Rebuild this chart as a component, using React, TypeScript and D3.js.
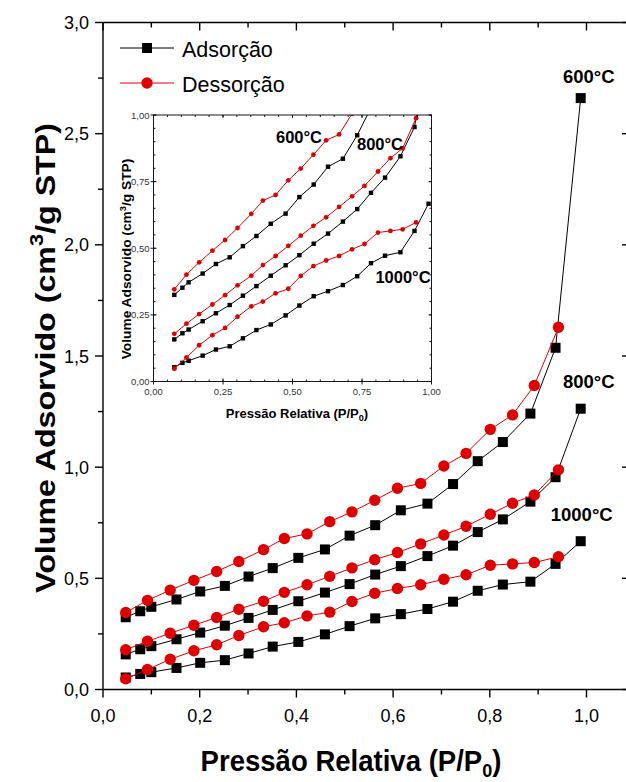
import React from "react";
import * as d3 from "d3";

// relative pressure of the measured points
const adsP = [0.047, 0.077, 0.1, 0.152, 0.201, 0.252, 0.301, 0.351, 0.404, 0.459, 0.51, 0.563, 0.616, 0.671, 0.724, 0.775, 0.827, 0.884, 0.936, 0.988];
const desP = [0.047, 0.092, 0.139, 0.188, 0.235, 0.281, 0.332, 0.375, 0.422, 0.469, 0.515, 0.562, 0.609, 0.657, 0.705, 0.751, 0.801, 0.847, 0.892, 0.942];

// adsorbed volume (cm3/g STP)
const ads600 = [0.325, 0.352, 0.372, 0.405, 0.441, 0.466, 0.508, 0.546, 0.592, 0.63, 0.692, 0.739, 0.806, 0.836, 0.924, 1.027, 1.113, 1.241, 1.537, 2.66];
const des600 = [0.346, 0.401, 0.447, 0.491, 0.531, 0.576, 0.629, 0.679, 0.7, 0.755, 0.799, 0.851, 0.905, 0.927, 1.005, 1.062, 1.17, 1.235, 1.367, 1.629];
const ads800 = [0.158, 0.181, 0.195, 0.226, 0.256, 0.287, 0.322, 0.358, 0.397, 0.436, 0.474, 0.517, 0.555, 0.6, 0.647, 0.708, 0.765, 0.845, 0.955, 1.263];
const des800 = [0.179, 0.217, 0.253, 0.289, 0.324, 0.361, 0.397, 0.437, 0.471, 0.509, 0.547, 0.584, 0.616, 0.655, 0.695, 0.734, 0.788, 0.838, 0.875, 0.988];
const ads1000 = [0.054, 0.07, 0.078, 0.097, 0.12, 0.132, 0.162, 0.193, 0.214, 0.248, 0.285, 0.32, 0.339, 0.362, 0.395, 0.444, 0.472, 0.485, 0.565, 0.667];
const des1000 = [0.048, 0.09, 0.136, 0.174, 0.201, 0.243, 0.282, 0.3, 0.331, 0.348, 0.396, 0.433, 0.454, 0.471, 0.496, 0.516, 0.559, 0.565, 0.571, 0.597];

const xTicks = [0, 0.2, 0.4, 0.6, 0.8, 1.0];
const yTicks = [0, 0.5, 1.0, 1.5, 2.0, 2.5, 3.0];
const insetTicks = [0, 0.25, 0.5, 0.75, 1.0];

const FONT = "'Liberation Sans', Arial, sans-serif";
const RED = "#e00000";

const fmt1 = (d: number) => d.toFixed(1).replace(".", ",");
const fmt2 = (d: number) => d.toFixed(2).replace(".", ",");

type Series = { xs: number[]; ys: number[]; ads: boolean };
const series: Series[] = [
  { xs: adsP, ys: ads600, ads: true },
  { xs: adsP, ys: ads800, ads: true },
  { xs: adsP, ys: ads1000, ads: true },
  { xs: desP, ys: des600, ads: false },
  { xs: desP, ys: des800, ads: false },
  { xs: desP, ys: des1000, ads: false },
];

export default function App() {
  const x = d3.scaleLinear().domain([0, 1]).range([103, 586.5]);
  const y = d3.scaleLinear().domain([0, 3]).range([689.5, 22.5]);
  const rightX = 631;

  // inset axes
  const ix = d3.scaleLinear().domain([0, 1]).range([153.5, 431.5]);
  const iy = d3.scaleLinear().domain([0, 1]).range([381.5, 115]);
  // the inset's points sit a little to the right of its own tick marks
  const ixData = d3.scaleLinear().domain([-0.03, 0.999]).range([153.5, 431.5]);

  const mainLine = d3
    .line<[number, number]>()
    .x((d) => x(d[0]))
    .y((d) => y(d[1]));
  const insetLine = d3
    .line<[number, number]>()
    .x((d) => ixData(d[0]))
    .y((d) => iy(d[1]));

  const pts = (s: Series) => s.xs.map((p, i) => [p, s.ys[i]] as [number, number]);

  const minorX = d3.range(0.1, 1.01, 0.2);
  const minorY = d3.range(0.25, 3, 0.5);
  const topTicks = d3.range(0, 1.11, 0.1);
  const insetMinor = d3.range(0, 1.001, 0.05);

  const tempLabels = [
    { text: "600°C", p: adsP[19], v: ads600[19], dx: 8, dy: -15 },
    { text: "800°C", p: adsP[19], v: ads800[19], dx: 8, dy: -21 },
    { text: "1000°C", p: adsP[19], v: ads1000[19], dx: 1, dy: -20 },
  ];

  return (
    <svg width={626} height={782} style={{ position: "absolute", left: 0, top: 0, background: "#fff" }} fontFamily={FONT}>
      <defs>
        <clipPath id="insetClip">
          <rect x={ix(0)} y={iy(1)} width={ix(1) - ix(0)} height={iy(0) - iy(1)} />
        </clipPath>
      </defs>

      {/* main frame */}
      <g stroke="#000" strokeWidth={1.4} fill="none">
        <line x1={x(0)} x2={rightX} y1={y(0)} y2={y(0)} />
        <line x1={x(0)} x2={rightX} y1={y(3)} y2={y(3)} />
        <line x1={x(0)} x2={x(0)} y1={y(0)} y2={y(3)} />
        <line x1={rightX} x2={rightX} y1={y(0)} y2={y(3)} />
        {xTicks.map((t) => (
          <line key={"bx" + t} x1={x(t)} x2={x(t)} y1={y(0)} y2={y(0) + 8} />
        ))}
        {minorX.map((t) => (
          <line key={"bm" + t} x1={x(t)} x2={x(t)} y1={y(0)} y2={y(0) + 5} />
        ))}
        {topTicks.map((t, i) => (
          <line key={"tx" + t} x1={x(t)} x2={x(t)} y1={y(3)} y2={y(3) + (i % 2 === 0 ? 8 : 5)} />
        ))}
        {yTicks.map((t) => (
          <line key={"ly" + t} x1={x(0) - 8} x2={x(0)} y1={y(t)} y2={y(t)} />
        ))}
        {minorY.map((t) => (
          <line key={"lm" + t} x1={x(0) - 5} x2={x(0)} y1={y(t)} y2={y(t)} />
        ))}
        {yTicks.map((t) => (
          <line key={"ry" + t} x1={rightX - 9} x2={rightX} y1={y(t)} y2={y(t)} />
        ))}
      </g>

      {/* tick labels */}
      <g fontSize={18} fill="#000">
        {xTicks.map((t) => (
          <text key={"xl" + t} x={x(t)} y={722} textAnchor="middle">
            {fmt1(t)}
          </text>
        ))}
        {yTicks.map((t) => (
          <text key={"yl" + t} x={89} y={y(t) + 6.5} textAnchor="end">
            {fmt1(t)}
          </text>
        ))}
      </g>

      {/* axis titles */}
      <text transform="translate(351,771) scale(0.95,1)" textAnchor="middle" fontSize={29} fontWeight="bold">
        Pressão Relativa (P/P<tspan fontSize={19} dy={6}>0</tspan>
        <tspan dy={-6}>)</tspan>
      </text>
      <text transform="translate(55,358) rotate(-90) scale(1.15,1)" textAnchor="middle" fontSize={28} fontWeight="bold">
        Volume Adsorvido (cm<tspan fontSize={19} dy={-12}>3</tspan>
        <tspan dy={12}>/g STP)</tspan>
      </text>

      {/* main series */}
      {series.map((s, i) => (
        <g key={"ms" + i}>
          <path d={mainLine(pts(s)) || ""} fill="none" stroke={s.ads ? "#000" : RED} strokeWidth={1} />
          {pts(s).map((d, j) =>
            s.ads ? (
              <rect key={j} x={x(d[0]) - 5} y={y(d[1]) - 5} width={10} height={10} fill="#000" />
            ) : (
              <circle key={j} cx={x(d[0])} cy={y(d[1])} r={5.7} fill={RED} />
            )
          )}
        </g>
      ))}

      {/* temperature labels */}
      {tempLabels.map((l) => (
        <text key={l.text} x={x(l.p) + l.dx} y={y(l.v) + l.dy} textAnchor="middle" fontSize={18.5} fontWeight="bold">
          {l.text}
        </text>
      ))}

      {/* legend */}
      <g>
        <line x1={120} x2={174} y1={48} y2={48} stroke="#000" strokeWidth={1} />
        <rect x={142} y={43} width={10} height={10} fill="#000" />
        <text x={182} y={57} fontSize={21.5}>Adsorção</text>
        <line x1={120} x2={174} y1={83} y2={83} stroke={RED} strokeWidth={1} />
        <circle cx={147} cy={83} r={5.7} fill={RED} />
        <text x={182} y={92} fontSize={21.5}>Dessorção</text>
      </g>

      {/* inset */}
      <g>
        <rect x={ix(0)} y={iy(1)} width={ix(1) - ix(0)} height={iy(0) - iy(1)} fill="#fff" />
        <g clipPath="url(#insetClip)">
          {series.map((s, i) => (
            <g key={"is" + i}>
              <path d={insetLine(pts(s)) || ""} fill="none" stroke={s.ads ? "#000" : RED} strokeWidth={1} />
              {pts(s).map((d, j) =>
                s.ads ? (
                  <rect key={j} x={ixData(d[0]) - 2.2} y={iy(d[1]) - 2.2} width={4.4} height={4.4} fill="#000" />
                ) : (
                  <circle key={j} cx={ixData(d[0])} cy={iy(d[1])} r={2.4} fill={RED} />
                )
              )}
            </g>
          ))}
        </g>
        <g stroke="#000" strokeWidth={0.9} fill="none">
          <rect x={ix(0)} y={iy(1)} width={ix(1) - ix(0)} height={iy(0) - iy(1)} />
          {insetMinor.map((t) => (
            <g key={"im" + t}>
              <line x1={ix(t)} x2={ix(t)} y1={iy(0)} y2={iy(0) - 2} />
              <line x1={ix(t)} x2={ix(t)} y1={iy(1)} y2={iy(1) + 2} />
              <line x1={ix(0)} x2={ix(0) + 2} y1={iy(t)} y2={iy(t)} />
              <line x1={ix(1)} x2={ix(1) - 2} y1={iy(t)} y2={iy(t)} />
            </g>
          ))}
          {insetTicks.map((t) => (
            <g key={"it" + t}>
              <line x1={ix(t)} x2={ix(t)} y1={iy(0) - 3} y2={iy(0) + 3} />
              <line x1={ix(t)} x2={ix(t)} y1={iy(1)} y2={iy(1) + 3} />
              <line x1={ix(0) - 3} x2={ix(0) + 3} y1={iy(t)} y2={iy(t)} />
              <line x1={ix(1) - 3} x2={ix(1)} y1={iy(t)} y2={iy(t)} />
            </g>
          ))}
        </g>
        <g fontSize={9.5} fill="#333">
          {insetTicks.map((t) => (
            <text key={"ixl" + t} x={ix(t)} y={iy(0) + 13} textAnchor="middle">
              {fmt2(t)}
            </text>
          ))}
          {insetTicks.map((t) => (
            <text key={"iyl" + t} x={ix(0) - 4} y={iy(t) + 3.5} textAnchor="end">
              {fmt2(t)}
            </text>
          ))}
        </g>
        <text x={297} y={418} textAnchor="middle" fontSize={13} fontWeight="bold">
          Pressão Relativa (P/P<tspan fontSize={9} dy={3}>0</tspan>
          <tspan dy={-3}>)</tspan>
        </text>
        <text transform="translate(131,259) rotate(-90) scale(1.1,1)" textAnchor="middle" fontSize={12.5} fontWeight="bold">
          Volume Adsorvido (cm<tspan fontSize={8.5} dy={-5}>3</tspan>
          <tspan dy={5}>/g STP)</tspan>
        </text>
        <g fontSize={16.5} fontWeight="bold">
          <text x={299} y={143} textAnchor="middle">600°C</text>
          <text x={380} y={150} textAnchor="middle">800°C</text>
          <text x={403} y={283} textAnchor="middle">1000°C</text>
        </g>
      </g>
    </svg>
  );
}
